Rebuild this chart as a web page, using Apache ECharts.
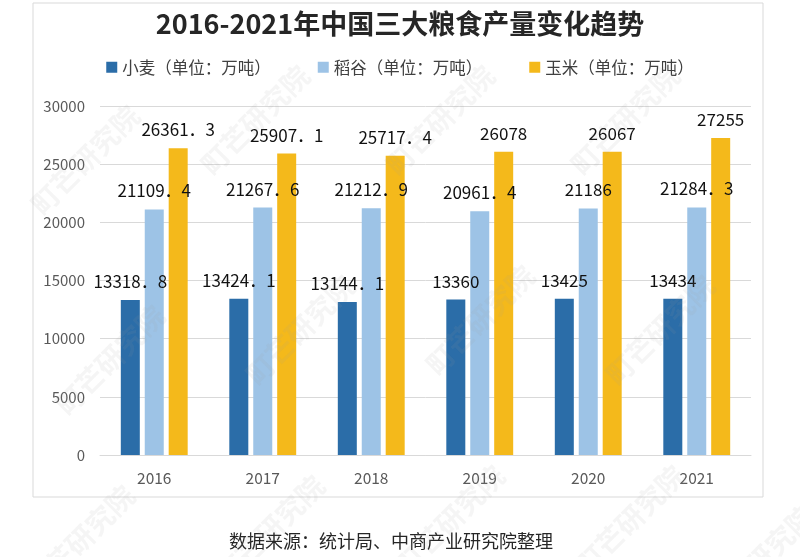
<!DOCTYPE html>
<html>
<head>
<meta charset="utf-8">
<script src="https://cdn.jsdelivr.net/npm/echarts@6/dist/echarts.min.js"></script>
<style>
html,body{margin:0;padding:0;background:#fff;}
#c{width:800px;height:557px;}
</style>
</head>
<body>
<div id="c"></div>
<script>
var years = ['2016','2017','2018','2019','2020','2021'];
var wheat = [13318.8, 13424.1, 13144.1, 13360, 13425, 13434];
var rice = [21109.4, 21267.6, 21212.9, 20961.4, 21186, 21284.3];
var corn = [26361.3, 25907.1, 25717.4, 26078, 26067, 27255];
var seriesNames = ['小麦（单位：万吨）','稻谷（单位：万吨）','玉米（单位：万吨）'];
var yTicks = {min:0, max:30000, interval:5000};

var FONT = '"Noto Sans CJK SC", "Noto Sans", sans-serif';
var chart = echarts.init(document.getElementById('c'));

var wm = [];
var wmPos = [[85,160],[255,120],[440,120],[625,120],[110,360],[300,330],[480,320],[660,330],[80,540],[270,530],[450,520],[630,520],[760,560]];
wmPos.forEach(function(p){
  wm.push({type:'text', x:p[0], y:p[1], rotation:Math.PI/4, z:100, silent:true,
    style:{text:'町芒研究院', fill:'rgba(160,160,160,0.10)', font:'bold 28px '+FONT, align:'center', verticalAlign:'middle'}});
});

function lbl(){
  return {show:true, position:'top', distance:10, color:'#111', fontSize:17, fontFamily:FONT,
    formatter:function(p){return String(p.value).replace('.', '．');}};
}

chart.setOption({
  animation:false,
  backgroundColor:'#fff',
  title:{text:'2016-2021年中国三大粮食产量变化趋势', left:'center', top:5,
    textStyle:{fontSize:27, fontWeight:'bold', color:'#262626', fontFamily:FONT}},
  legend:{top:54, left:'center', itemWidth:11, itemHeight:11, itemGap:47, icon:'rect',
    textStyle:{fontSize:16.5, color:'#404040', fontFamily:FONT}},
  grid:{left:100, right:49, top:106, bottom:102},
  xAxis:{type:'category', data:years,
    axisLine:{lineStyle:{color:'#d9d9d9'}}, axisTick:{show:false},
    axisLabel:{fontSize:15.5, color:'#595959', margin:15, fontFamily:FONT}},
  yAxis:{type:'value', min:yTicks.min, max:yTicks.max, interval:yTicks.interval,
    axisLine:{show:false}, axisTick:{show:false},
    axisLabel:{fontSize:15, color:'#595959', margin:15, fontFamily:FONT,
      formatter:function(v){return String(v);}},
    splitLine:{lineStyle:{color:'#d9d9d9'}}},
  series:[
    {name:seriesNames[0], type:'bar', data:wheat, barWidth:19, barGap:'26%', itemStyle:{color:'#2B6DA8'}, label:lbl()},
    {name:seriesNames[1], type:'bar', data:rice, barWidth:19, barGap:'26%', itemStyle:{color:'#9DC3E6'}, label:lbl()},
    {name:seriesNames[2], type:'bar', data:corn, barWidth:19, barGap:'26%', itemStyle:{color:'#F4B91B'}, label:lbl()}
  ],
  graphic:[
    {type:'rect', shape:{x:33, y:3, width:730, height:494}, z:-1, silent:true,
      style:{fill:'none', stroke:'#d9d9d9', lineWidth:1}},
    {type:'text', x:391, y:541, silent:true,
      style:{text:'数据来源：统计局、中商产业研究院整理', fill:'#262626', font:'18px '+FONT, align:'center', verticalAlign:'middle'}}
  ].concat(wm)
});
</script>
</body>
</html>
